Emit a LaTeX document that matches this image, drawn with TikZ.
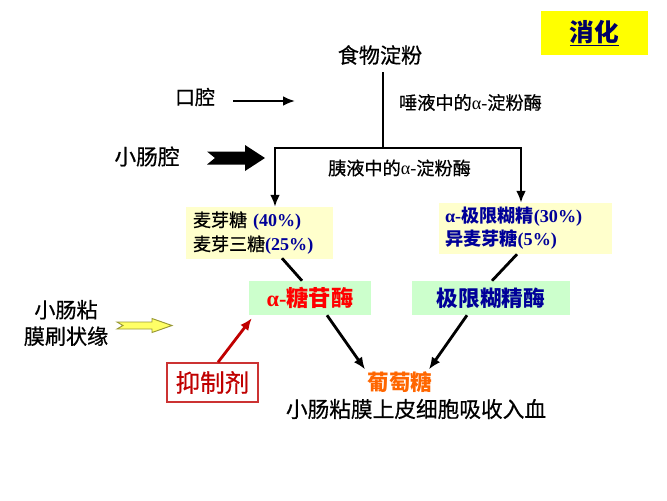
\documentclass[tikz,border=0pt]{standalone}
\usepackage{fontspec}
\setmainfont{Liberation Serif}
\newfontfamily\hei[UprightFeatures={FakeBold=0.6}]{Noto Sans CJK SC}
\usepackage{tikz}
\usetikzlibrary{arrows.meta, calc}
\usepackage{xcolor}
\definecolor{xhyellow}{HTML}{FFFF00}
\definecolor{xhnavy}{HTML}{000066}
\definecolor{creambg}{HTML}{FFFFCC}
\definecolor{mintbg}{HTML}{CCFFCC}
\definecolor{navytext}{HTML}{000099}
\definecolor{enzred}{HTML}{FF0000}
\definecolor{inhred}{HTML}{C00000}
\definecolor{inhframe}{HTML}{CC3333}
\definecolor{glcorange}{HTML}{FF6600}
\definecolor{brushfill}{HTML}{FFFF66}
\definecolor{brushline}{HTML}{999933}
\newcommand{\alp}{{\rmfamily α}}
\newcommand{\fs}[2]{\fontsize{#1}{#2}\selectfont}

\begin{document}
\begin{tikzpicture}[x=0.03cm, y=-0.03cm, font=\hei, every node/.style={inner sep=0pt},
    flow/.style={line width=2.4pt},
    arrowline/.style={-{Latex[length=0.36cm, width=0.3cm]}}]
    \useasboundingbox (0,0) rectangle (667,500);

    % title
    \node[fill=xhyellow, minimum width=3.21cm, minimum height=1.32cm] (xiaohua) at (594.5,33)
        {\fs{21pt}{21pt}\bfseries\color{xhnavy}\underline{消化}};

    % starch and the two amylases
    \node (food) at (380,55) {\fs{18pt}{18pt}食物淀粉};
    \node (mouth) at (195,97) {\fs{17pt}{17pt}口腔};
    \coordinate (mouthtip) at (295,101);
    \draw[flow, arrowline] ($(mouth.east)+(18,4)$) -- (mouthtip);
    \node (saliva) at (470.5,102.5) {\fs{15.5pt}{15.5pt}唾液中的\alp{\rmfamily -}淀粉酶};

    \node (lumen) at (147,156.5) {\fs{18.5pt}{18.5pt}小肠腔};
    \coordinate (lumenarrow) at (207,158);
    \fill[shift={(lumenarrow)}] (0,-6.5) -- (38,-6.5) -- (38,-13) -- (58,0) -- (38,13) -- (38,6.5) -- (0,6.5) -- (8,0) -- cycle;
    \node (pancreas) at (399.5,168) {\fs{15.5pt}{15.5pt}胰液中的\alp{\rmfamily -}淀粉酶};

    % products
    \node[fill=creambg, text width=3.99cm, inner xsep=0.21cm, minimum height=1.56cm, align=left,
        font=\hei\fs{15.4pt}{20.5pt}] (malt) at (259.5,233)
        {麦芽糖 {\rmfamily\bfseries\color{navytext}(40\%)}\\麦芽三糖{\rmfamily\bfseries\color{navytext}(25\%)}};
    \node[fill=creambg, text width=4.83cm, inner xsep=0.18cm, minimum height=1.53cm, align=left,
        font=\hei\bfseries\fs{15.5pt}{19.6pt}, text=navytext] (dextrin) at (525.5,228.5)
        {\alp{\rmfamily -}极限糊精{\rmfamily(30\%)}\\异麦芽糖{\rmfamily(5\%)}};

    \coordinate (split) at (383,148);
    \coordinate (splitL) at (275,148);
    \coordinate (splitR) at (521,148);
    \draw[flow] ($(food.south -| split)+(0,7)$) -- (split);
    \draw[flow, arrowline] (split) -- (splitL) -- (splitL |- malt.north);
    \draw[flow, arrowline] (split) -- (splitR) -- (splitR |- dextrin.north);

    % brush border enzymes
    \node[fill=mintbg, minimum width=3.66cm, minimum height=1.02cm] (agase) at (310,298)
        {\color{enzred}\bfseries\fs{19pt}{19pt}\alp{\rmfamily -}糖苷酶};
    \node[fill=mintbg, minimum width=4.74cm, minimum height=1.02cm] (ldase) at (491,298)
        {\color{navytext}\bfseries\fs{18.5pt}{18.5pt}极限糊精酶};
    \draw[flow] ($(malt.south)+(22.5,-1)$) -- ($(agase.north)+(-8,0)$);
    \draw[flow] ($(dextrin.south)+(-8.5,0)$) -- ($(ldase.north)+(1,0)$);

    \node[align=center, font=\hei\fs{18pt}{22.6pt}] (brush) at (66,323) {小肠粘\\膜刷状缘};
    \coordinate (brushtail) at (117,325.5);
    \filldraw[fill=brushfill, draw=brushline, line width=0.8pt, shift={(brushtail)}] (0,-3.5) -- (35,-3.5) -- (35,-7) -- (55,0) -- (35,7) -- (35,3.5) -- (0,3.5) -- (6,0) -- cycle;

    % inhibitor and glucose
    \node[draw=inhframe, line width=1.2pt, fill=white, minimum width=2.73cm, minimum height=1.17cm] (inhib) at (212.5,382.5)
        {\color{inhred}\fs{21pt}{21pt}抑制剂};
    \draw[flow, inhred, arrowline] ($(inhib.north)+(5.5,0)$) -- ($(agase.south west)+(3,3)$);

    \node (glc) at (400,382) {\color{glcorange}\bfseries\fs{18.5pt}{18.5pt}葡萄糖};
    \node (absorb) at (416,409) {\fs{18.5pt}{18.5pt}小肠粘膜上皮细胞吸收入血};
    \draw[flow, arrowline] ($(agase.south)+(17,0)$) -- ($(glc.north)+(-35,-2)$);
    \draw[flow, arrowline] ($(ldase.south)+(-24,0)$) -- ($(glc.north)+(29,-2)$);
\end{tikzpicture}
\end{document}
